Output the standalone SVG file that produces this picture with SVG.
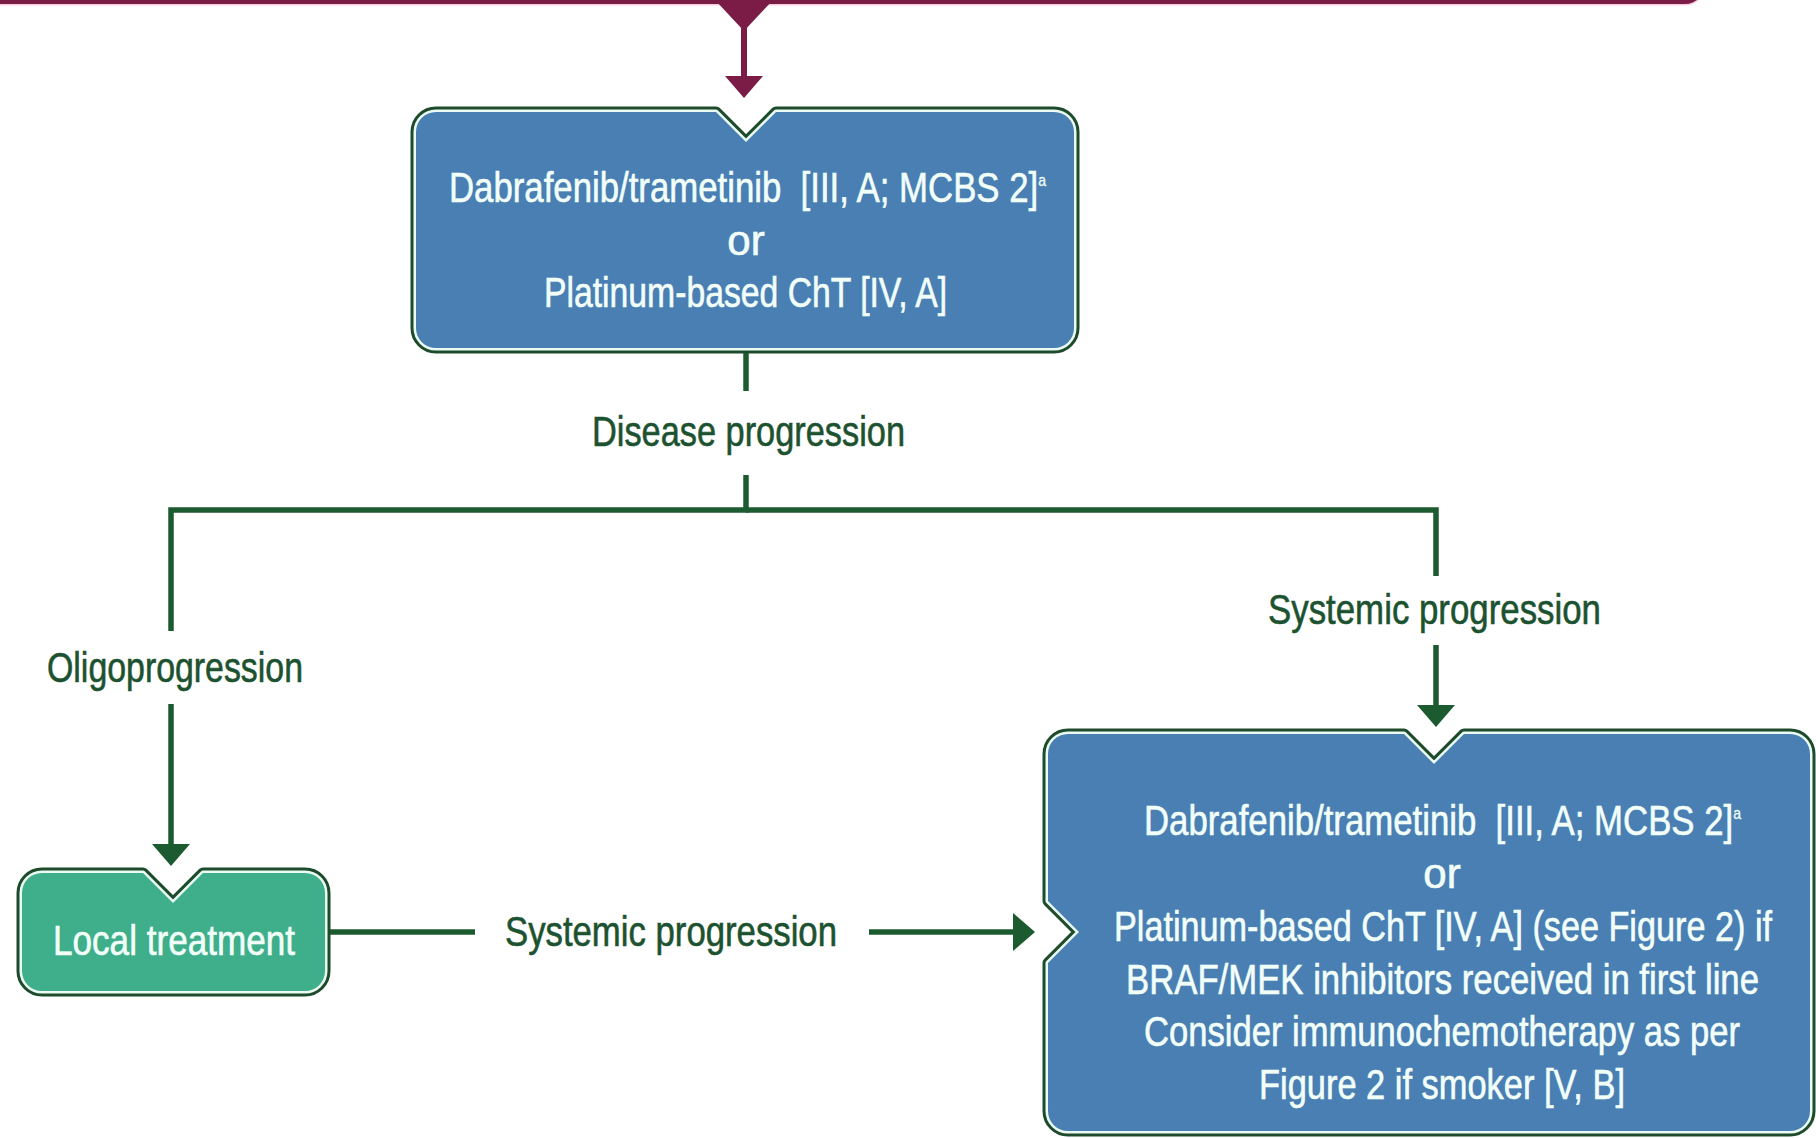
<svg xmlns="http://www.w3.org/2000/svg" xmlns:xlink="http://www.w3.org/1999/xlink" width="1816" height="1138" viewBox="0 0 1816 1138">
  <style>
    .edge { fill: none; stroke: #1c5a2f; stroke-width: 5.5; stroke-linejoin: miter; }
    .edge-m { fill: none; stroke: #7a1c46; stroke-width: 6; }
    .rim-dark { fill: none; stroke: #1e4b2b; stroke-width: 11; stroke-linejoin: round; }
    .rim-light { fill: none; stroke: #e9fbf2; stroke-width: 5; stroke-linejoin: round; }
    .fill-blue { fill: #4a7fb4; }
    .fill-green { fill: #3fae8a; }
    .box-text { font-family: "Liberation Sans Narrow", "Liberation Sans", Arial, sans-serif; font-size: 42px; fill: #f2fff9; stroke: #f2fff9; stroke-width: 0.6; white-space: pre; }
    .sup { font-size: 17px; stroke-width: 0.3; }
    .label { font-family: "Liberation Sans Narrow", "Liberation Sans", Arial, sans-serif; font-size: 42px; fill: #1d5230; stroke: #1d5230; stroke-width: 0.6; }
  </style>
  <defs>
    <marker id="arrow-green" markerUnits="userSpaceOnUse" markerWidth="24" markerHeight="40" refX="12" refY="19" orient="auto" overflow="visible">
      <path d="M0,0 L22,19 L0,38 Z" fill="#1c5a2f"/>
    </marker>
    <marker id="arrow-maroon" markerUnits="userSpaceOnUse" markerWidth="24" markerHeight="40" refX="12" refY="19" orient="auto" overflow="visible">
      <path d="M0,0 L22,19 L0,38 Z" fill="#7a1c46"/>
    </marker>
    <path id="shape-first" d="M436,112 L716,112 L746,142 L776,112 L1054,112 A20,20 0 0 1 1074,132 L1074,328 A20,20 0 0 1 1054,348 L436,348 A20,20 0 0 1 416,328 L416,132 A20,20 0 0 1 436,112 Z"/>
    <path id="shape-local" d="M42,873 L143,873 L173,903 L203,873 L305,873 A20,20 0 0 1 325,893 L325,971 A20,20 0 0 1 305,991 L42,991 A20,20 0 0 1 22,971 L22,893 A20,20 0 0 1 42,873 Z"/>
    <path id="shape-second" d="M1068,734 L1404,734 L1434,764 L1464,734 L1790,734 A20,20 0 0 1 1810,754 L1810,1111 A20,20 0 0 1 1790,1131 L1068,1131 A20,20 0 0 1 1048,1111 L1048,963 L1079,932 L1048,901 L1048,754 A20,20 0 0 1 1068,734 Z"/>
  </defs>

  <rect width="1816" height="1138" fill="#ffffff"/>

  <!-- bottom edge of the preceding box, with its pointer -->
  <g id="previous-step">
    <rect x="-40" y="-60" width="1745" height="65.5" rx="20" fill="#f6cddd"/>
    <rect x="-40" y="-60" width="1745" height="64" rx="20" fill="#7a1c46"/>
    <polygon points="715,0 773,0 744,31" fill="#7a1c46"/>
  </g>

  <g id="connectors">
    <path class="edge-m" d="M744,28 V88" marker-end="url(#arrow-maroon)"/>
    <path class="edge" d="M746,353 V391"/>
    <path class="edge" d="M746,475 V510 H171 V631"/>
    <path class="edge" d="M746,510 H1436 V576"/>
    <path class="edge" d="M171,704 V856" marker-end="url(#arrow-green)"/>
    <path class="edge" d="M1436,645 V717" marker-end="url(#arrow-green)"/>
    <path class="edge" d="M330,932 H475"/>
    <path class="edge" d="M869,932 H1025" marker-end="url(#arrow-green)"/>
    <text class="label" x="592" y="446" textLength="313" lengthAdjust="spacingAndGlyphs">Disease progression</text>
    <text class="label" x="47" y="682" textLength="256" lengthAdjust="spacingAndGlyphs">Oligoprogression</text>
    <text class="label" x="1268" y="624" textLength="333" lengthAdjust="spacingAndGlyphs">Systemic progression</text>
    <text class="label" x="505" y="946" textLength="332" lengthAdjust="spacingAndGlyphs">Systemic progression</text>
  </g>

  <g id="first-line">
    <use xlink:href="#shape-first" class="rim-dark"/>
    <use xlink:href="#shape-first" class="rim-light"/>
    <use xlink:href="#shape-first" class="fill-blue"/>
    <text class="box-text" x="449" y="202" textLength="597" lengthAdjust="spacingAndGlyphs" xml:space="preserve">Dabrafenib/trametinib  [III, A; MCBS 2]<tspan class="sup" dy="-16">a</tspan></text>
    <text class="box-text" x="746" y="255" text-anchor="middle">or</text>
    <text class="box-text" x="544" y="307" textLength="403" lengthAdjust="spacingAndGlyphs">Platinum-based ChT [IV, A]</text>
  </g>

  <g id="local-treatment">
    <use xlink:href="#shape-local" class="rim-dark"/>
    <use xlink:href="#shape-local" class="rim-light"/>
    <use xlink:href="#shape-local" class="fill-green"/>
    <text class="box-text" x="53" y="955" textLength="242" lengthAdjust="spacingAndGlyphs">Local treatment</text>
  </g>

  <g id="second-line">
    <use xlink:href="#shape-second" class="rim-dark"/>
    <use xlink:href="#shape-second" class="rim-light"/>
    <use xlink:href="#shape-second" class="fill-blue"/>
    <text class="box-text" x="1144" y="835" textLength="597" lengthAdjust="spacingAndGlyphs" xml:space="preserve">Dabrafenib/trametinib  [III, A; MCBS 2]<tspan class="sup" dy="-16">a</tspan></text>
    <text class="box-text" x="1442" y="888" text-anchor="middle">or</text>
    <text class="box-text" x="1114" y="941" textLength="658" lengthAdjust="spacingAndGlyphs">Platinum-based ChT [IV, A] (see Figure 2) if</text>
    <text class="box-text" x="1126" y="994" textLength="633" lengthAdjust="spacingAndGlyphs">BRAF/MEK inhibitors received in first line</text>
    <text class="box-text" x="1144" y="1046" textLength="596" lengthAdjust="spacingAndGlyphs">Consider immunochemotherapy as per</text>
    <text class="box-text" x="1259" y="1099" textLength="366" lengthAdjust="spacingAndGlyphs">Figure 2 if smoker [V, B]</text>
  </g>
</svg>
